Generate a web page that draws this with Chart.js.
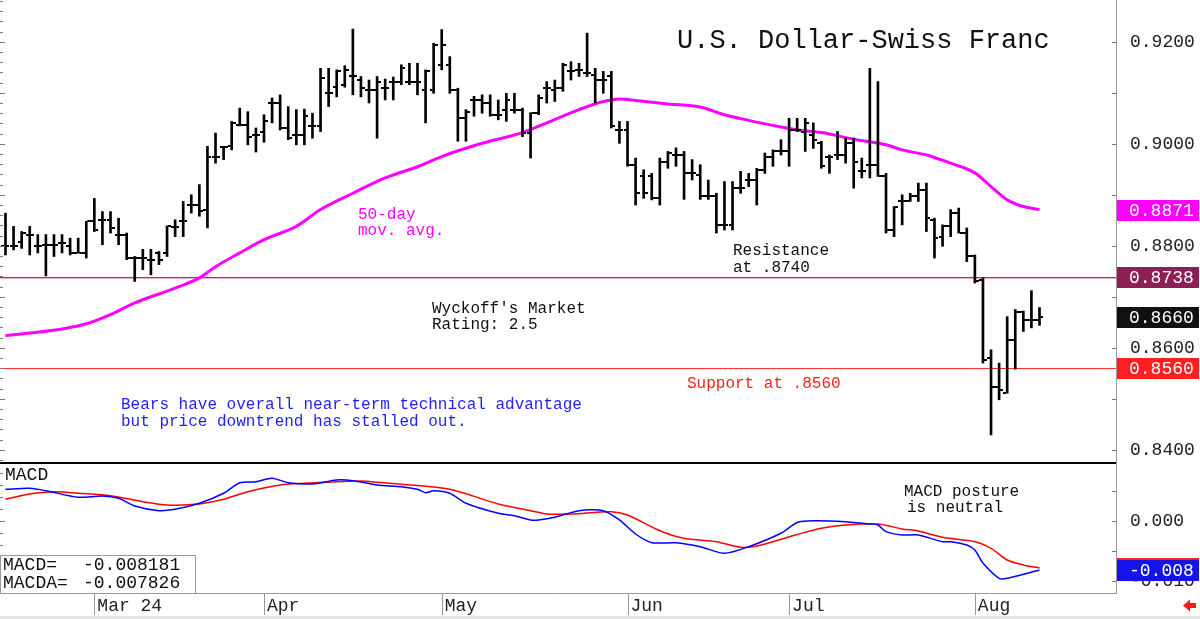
<!DOCTYPE html>
<html>
<head>
<meta charset="utf-8">
<title>U.S. Dollar-Swiss Franc</title>
<script src="https://cdn.jsdelivr.net/npm/chart.js@4.4.1/dist/chart.umd.min.js"></script>
<style>
    html, body { margin: 0; padding: 0; background: #fff; }
    #wrap { position: relative; width: 1200px; height: 619px; overflow: hidden; background: #fff; }
    #priceChart { position: absolute; left: 0; top: 0; }
    #macdChart { position: absolute; left: 0; top: 462px; }
</style>
</head>
<body>
<div id="wrap">
    <canvas id="priceChart" width="1200" height="462"></canvas>
    <canvas id="macdChart" width="1200" height="157"></canvas>
</div>
<script>
// --- Data (one bar per trading day, index 0 = mid Feb) ---
const monthStarts = [11, 32, 54, 77, 97, 120];
const monthLabels = ['Mar 24', 'Apr', 'May', 'Jun', 'Jul', 'Aug'];

const highs = [
    0.8864, 0.8838, 0.8828, 0.8838, 0.8822, 0.8822, 0.8822, 0.8822, 0.8815, 0.8815,
    0.8848, 0.8893, 0.8867, 0.8867, 0.8854, 0.8825, 0.8779, 0.8793, 0.8793, 0.8789,
    0.8839, 0.8851, 0.8887, 0.8900, 0.8920, 0.8995, 0.9021, 0.8995, 0.9044, 0.9070,
    0.9063, 0.9031, 0.9057, 0.9090, 0.9096, 0.9073, 0.9067, 0.9068, 0.9060, 0.9148,
    0.9148, 0.9145, 0.9153, 0.9225, 0.9132, 0.9125, 0.9132, 0.9127, 0.9131, 0.9155,
    0.9158, 0.9158, 0.9145, 0.9197, 0.9224, 0.9171, 0.9109, 0.9067, 0.9093, 0.9096,
    0.9096, 0.9086, 0.9099, 0.9099, 0.9070, 0.9061, 0.9096, 0.9122, 0.9125, 0.9158,
    0.9161, 0.9158, 0.9217, 0.9148, 0.9142, 0.9142, 0.9044, 0.9044, 0.8972, 0.8949,
    0.8942, 0.8972, 0.8985, 0.8992, 0.8985, 0.8969, 0.8959, 0.8929, 0.8903, 0.8926,
    0.8926, 0.8946, 0.8942, 0.8952, 0.8982, 0.8988, 0.9008, 0.9050, 0.9050, 0.9050,
    0.9041, 0.9005, 0.8978, 0.9024, 0.9011, 0.9011, 0.8972, 0.9148, 0.9122, 0.8942,
    0.8877, 0.8900, 0.8903, 0.8923, 0.8923, 0.8854, 0.8841, 0.8871, 0.8874, 0.8835,
    0.8782, 0.8737, 0.8596, 0.8570, 0.8661, 0.8675, 0.8672, 0.8712, 0.8679
];
const lows = [
    0.8782, 0.8792, 0.8795, 0.8782, 0.8786, 0.8741, 0.8779, 0.8786, 0.8782, 0.8786,
    0.8776, 0.8828, 0.8802, 0.8825, 0.8802, 0.8773, 0.8730, 0.8753, 0.8743, 0.8763,
    0.8779, 0.8818, 0.8818, 0.8864, 0.8858, 0.8835, 0.8962, 0.8969, 0.8988, 0.9035,
    0.8998, 0.8984, 0.9003, 0.9041, 0.9027, 0.9008, 0.8998, 0.8998, 0.9011, 0.9024,
    0.9073, 0.9092, 0.9111, 0.9096, 0.9092, 0.9080, 0.9011, 0.9086, 0.9086, 0.9116,
    0.9116, 0.9096, 0.9041, 0.9099, 0.9145, 0.9099, 0.9005, 0.9005, 0.9054, 0.9060,
    0.9054, 0.9047, 0.9044, 0.9060, 0.9014, 0.8972, 0.9057, 0.9080, 0.9083, 0.9103,
    0.9125, 0.9132, 0.9132, 0.9080, 0.9099, 0.9031, 0.9001, 0.8956, 0.8880, 0.8893,
    0.8890, 0.8880, 0.8952, 0.8956, 0.8891, 0.8929, 0.8891, 0.8891, 0.8825, 0.8831,
    0.8831, 0.8903, 0.8916, 0.8880, 0.8942, 0.8956, 0.8978, 0.8956, 0.9024, 0.8985,
    0.8991, 0.8952, 0.8942, 0.8969, 0.8962, 0.8913, 0.8933, 0.8933, 0.8936, 0.8825,
    0.8818, 0.8841, 0.8887, 0.8887, 0.8828, 0.8776, 0.8799, 0.8818, 0.8825, 0.8769,
    0.8727, 0.8570, 0.8429, 0.8498, 0.8511, 0.8558, 0.8632, 0.8639, 0.8644
];
const opens = [
    0.8799, 0.8799, 0.8808, 0.8822, 0.8799, 0.8802, 0.8802, 0.8805, 0.8799, 0.8786,
    0.8786, 0.8848, 0.8851, 0.8851, 0.8822, 0.8822, 0.8776, 0.8776, 0.8773, 0.8786,
    0.8786, 0.8836, 0.8848, 0.8880, 0.8880, 0.8871, 0.8975, 0.8993, 0.8995, 0.9037,
    0.9037, 0.9018, 0.9024, 0.9080, 0.9080, 0.9031, 0.9018, 0.9018, 0.9034, 0.9034,
    0.9099, 0.9112, 0.9116, 0.9132, 0.9125, 0.9106, 0.9106, 0.9109, 0.9122, 0.9122,
    0.9122, 0.9122, 0.9106, 0.9106, 0.9155, 0.9155, 0.9106, 0.9050, 0.9086, 0.9086,
    0.9080, 0.9057, 0.9067, 0.9067, 0.9067, 0.9021, 0.9060, 0.9109, 0.9106, 0.9109,
    0.9142, 0.9145, 0.9139, 0.9135, 0.9125, 0.9132, 0.9027, 0.9027, 0.8959, 0.8936,
    0.8936, 0.8893, 0.8965, 0.8978, 0.8978, 0.8942, 0.8939, 0.8897, 0.8897, 0.8841,
    0.8841, 0.8913, 0.8929, 0.8929, 0.8949, 0.8975, 0.8985, 0.8985, 0.9027, 0.9024,
    0.9018, 0.9001, 0.8975, 0.8978, 0.8978, 0.9001, 0.8946, 0.8959, 0.8959, 0.8936,
    0.8831, 0.8887, 0.8887, 0.8897, 0.8910, 0.8851, 0.8817, 0.8838, 0.8864, 0.8825,
    0.8779, 0.8733, 0.8580, 0.8524, 0.8512, 0.8616, 0.8670, 0.8655, 0.8654
];
const closes = [
    0.8799, 0.8799, 0.8825, 0.8822, 0.8799, 0.8802, 0.8802, 0.8805, 0.8786, 0.8786,
    0.8848, 0.8831, 0.8851, 0.8835, 0.8822, 0.8776, 0.8776, 0.8776, 0.8773, 0.8773,
    0.8838, 0.8836, 0.8848, 0.8880, 0.8869, 0.8975, 0.8975, 0.8993, 0.9041, 0.9037,
    0.9014, 0.9018, 0.9044, 0.9080, 0.9031, 0.9011, 0.9018, 0.9054, 0.9034, 0.9129,
    0.9099, 0.9142, 0.9145, 0.9132, 0.9109, 0.9106, 0.9122, 0.9109, 0.9122, 0.9148,
    0.9122, 0.9122, 0.9142, 0.9194, 0.9194, 0.9106, 0.9050, 0.9063, 0.9086, 0.9080,
    0.9057, 0.9057, 0.9086, 0.9067, 0.9021, 0.9060, 0.9090, 0.9109, 0.9109, 0.9155,
    0.9142, 0.9145, 0.9139, 0.9125, 0.9125, 0.9034, 0.9027, 0.8959, 0.8903, 0.8903,
    0.8893, 0.8965, 0.8982, 0.8978, 0.8942, 0.8942, 0.8897, 0.8897, 0.8841, 0.8841,
    0.8913, 0.8913, 0.8929, 0.8949, 0.8975, 0.8985, 0.8985, 0.9027, 0.9027, 0.9041,
    0.9008, 0.8956, 0.8975, 0.8978, 0.9001, 0.8965, 0.8946, 0.8959, 0.8936, 0.8831,
    0.8877, 0.8887, 0.8897, 0.8910, 0.8854, 0.8815, 0.8838, 0.8864, 0.8825, 0.8779,
    0.8730, 0.8577, 0.8524, 0.8518, 0.8616, 0.8670, 0.8655, 0.8654, 0.8660
];

// 50-day moving average, read at these bars
const maDays = [0, 3, 7, 10, 13, 16, 21, 24, 26, 29, 32, 36, 39, 43, 47, 51, 54, 59, 64, 67,
    71, 74, 76, 78, 82, 86, 89, 92, 96, 98, 101, 105, 109, 111, 114, 117, 120, 122, 124, 126, 128];
const maValues = [0.8624, 0.8629, 0.8637, 0.8647, 0.8665, 0.8688, 0.8717, 0.8737, 0.8759, 0.8786,
    0.8812, 0.8838, 0.8871, 0.8903, 0.8933, 0.8955, 0.8975, 0.9001, 0.9022, 0.9041,
    0.9067, 0.9083, 0.9088, 0.9085, 0.9078, 0.9072, 0.9057, 0.9046, 0.9033, 0.9027,
    0.9022, 0.9009, 0.8998, 0.8988, 0.8978, 0.8962, 0.8943, 0.8916, 0.8890, 0.8877, 0.8871];

// MACD (blue) and its average (red)
const macdDays = [0, 3, 5, 9, 12, 14, 16, 19, 21, 24, 27, 29, 31, 33, 35, 38, 41, 43, 46, 49,
    51, 52, 53, 55, 57, 61, 63, 65, 66, 68, 71, 74, 76, 78, 80, 83, 86, 89, 92, 96,
    98, 100, 104, 107, 108, 109, 111, 113, 116, 117, 119, 120, 121, 123, 124, 128];
const macdValues = [0.00528, 0.00545, 0.00505, 0.00395, 0.00417, 0.00378, 0.0025, 0.00172, 0.00195, 0.00295,
    0.00462, 0.00638, 0.00655, 0.00712, 0.00638, 0.00617, 0.00683, 0.00672, 0.006, 0.00572,
    0.00528, 0.00472, 0.00505, 0.00462, 0.00295, 0.00128, 0.00088, 0.00017, 0.00017, 0.00062,
    0.00172, 0.00172, 0.00017, -0.00217, -0.00362, -0.00362, -0.00428, -0.00538, -0.00428, -0.00205,
    -0.00025, 0.00005, -0.00012, -0.0005, -0.00067, -0.00178, -0.00233, -0.00233, -0.00345, -0.00345,
    -0.004, -0.00483, -0.0070, -0.00955, -0.00955, -0.008181];
const signalDays = [0, 3, 6, 9, 13, 17, 20, 24, 27, 30, 34, 37, 41, 44, 49, 55, 61, 65, 67, 70,
    75, 77, 81, 84, 88, 91, 93, 98, 101, 104, 108, 111, 113, 116, 120, 122, 124, 126, 128];
const signalValues = [0.00362, 0.0045, 0.00488, 0.00462, 0.00422, 0.00322, 0.00267, 0.00283, 0.00362, 0.00488,
    0.006, 0.00628, 0.00655, 0.00667, 0.00612, 0.00528, 0.00283, 0.00172, 0.00117, 0.00117,
    0.00155, 0.001, -0.00162, -0.00288, -0.00345, -0.00438, -0.00417, -0.00225, -0.00122, -0.00067,
    -0.0005, -0.00133, -0.00167, -0.00272, -0.00345, -0.00455, -0.0065, -0.00733, -0.007826];

const priceTicks = [0.84, 0.86, 0.88, 0.90, 0.92];
const macdTicks = [-0.010, 0.000];
const resistanceLevel = 0.8738;
const supportLevel = 0.8560;

// --- Shared look ---
const MONO = "'Liberation Mono', 'DejaVu Sans Mono', monospace";
Chart.defaults.font.family = MONO;
Chart.defaults.color = '#222';

const X_MIN = -0.68, X_MAX = 137.47;   // shared day range of both panels
const AXIS_W = 84;                      // width of the right-hand value axis

// the right axis must not push the plot area away from the canvas edges
function fitRightAxis(s) {
    s.width = AXIS_W;
    s.paddingTop = 0;
    s.paddingBottom = 0;
}

// small open / close tick images used as point styles
function tickImage(side) {
    const c = document.createElement('canvas');
    c.width = 8; c.height = 2;
    const g = c.getContext('2d');
    g.fillStyle = '#000';
    g.fillRect(side === 'left' ? 0 : 5, 0, 3, 2);
    return c;
}

function valueBox(ctx, left, y, text, bg) {
    ctx.fillStyle = bg;
    ctx.fillRect(left + 1, Math.round(y) - 10, 82, 21);
    ctx.fillStyle = '#fff';
    ctx.font = '18px ' + MONO;
    ctx.textBaseline = 'middle';
    ctx.textAlign = 'left';
    ctx.fillText(text, left + 13, Math.round(y) + 1);
}

// ticks drawn inside the left plot edge
function edgeTicks(ctx, area, scale, step, from, to, majorEvery) {
    ctx.strokeStyle = '#777';
    ctx.lineWidth = 1;
    for (let k = Math.ceil(from / step); k * step <= to; k++) {
        const py = Math.round(scale.getPixelForValue(k * step)) + 0.5;
        if (py < area.top || py > area.bottom) continue;
        const len = (k % majorEvery === 0) ? 5 : 3;
        ctx.beginPath(); ctx.moveTo(area.left, py); ctx.lineTo(area.left + len, py); ctx.stroke();
    }
}

// --- Price panel decorations ---
const priceDecor = {
    id: 'priceDecor',
    beforeDatasetsDraw(chart) {
        const { ctx, chartArea: a, scales: { y } } = chart;
        ctx.save();
        ctx.lineWidth = 1;
        // resistance: dark line with a pink edge below it
        let py = Math.round(y.getPixelForValue(resistanceLevel)) + 0.5;
        ctx.strokeStyle = '#7d4a78';
        ctx.beginPath(); ctx.moveTo(a.left, py); ctx.lineTo(a.right, py); ctx.stroke();
        ctx.strokeStyle = '#f2a8c8';
        ctx.beginPath(); ctx.moveTo(a.left, py + 1); ctx.lineTo(a.right, py + 1); ctx.stroke();
        // support
        py = Math.round(y.getPixelForValue(supportLevel)) + 0.5;
        ctx.strokeStyle = '#ff3030';
        ctx.beginPath(); ctx.moveTo(a.left, py); ctx.lineTo(a.right, py); ctx.stroke();
        ctx.restore();
    },
    afterDraw(chart) {
        const { ctx, chartArea: a, scales: { y } } = chart;
        ctx.save();
        edgeTicks(ctx, a, y, 0.002, 0.836, 0.93, 5);
        // inside ticks on the right axis
        ctx.strokeStyle = '#777';
        for (let k = 84; k <= 92; k++) {
            const py = Math.round(y.getPixelForValue(k / 100)) + 0.5;
            ctx.beginPath(); ctx.moveTo(a.right - 4, py); ctx.lineTo(a.right, py); ctx.stroke();
        }

        // annotations
        ctx.textBaseline = 'alphabetic';
        ctx.textAlign = 'left';
        ctx.fillStyle = '#111';
        ctx.font = '27px ' + MONO;
        ctx.fillText('U.S. Dollar-Swiss Franc', 677, 48);

        ctx.font = '16px ' + MONO;
        ctx.fillStyle = '#ff00ff';
        ctx.fillText('50-day', 358, 219);
        ctx.fillText('mov. avg.', 358, 235);
        ctx.fillStyle = '#111';
        ctx.fillText('Resistance', 733, 255);
        ctx.fillText('at .8740', 733, 272);
        ctx.fillText("Wyckoff's Market", 432, 313);
        ctx.fillText('Rating: 2.5', 432, 329);
        ctx.fillStyle = '#ff2020';
        ctx.fillText('Support at .8560', 687, 388);
        ctx.fillStyle = '#1f1fff';
        ctx.fillText('Bears have overall near-term technical advantage', 121, 409);
        ctx.fillText('but price downtrend has stalled out.', 121, 426);

        // value boxes on the right axis
        valueBox(ctx, a.right, y.getPixelForValue(maValues[maValues.length - 1]),
            maValues[maValues.length - 1].toFixed(4), '#ff00ff');
        valueBox(ctx, a.right, y.getPixelForValue(resistanceLevel), resistanceLevel.toFixed(4), '#8e1f56');
        valueBox(ctx, a.right, y.getPixelForValue(closes[closes.length - 1]),
            closes[closes.length - 1].toFixed(4), '#111');
        valueBox(ctx, a.right, y.getPixelForValue(supportLevel), supportLevel.toFixed(4), '#ff1f1f');
        ctx.restore();
    }
};

// --- Price panel: OHLC bars + 50-day average ---
new Chart(document.getElementById('priceChart'), {
    type: 'line',
    data: {
        datasets: [{
            type: 'bar',
            data: highs.map((h, i) => ({ x: i, y: [lows[i], h] })),
            backgroundColor: '#000',
            borderWidth: 0,
            barThickness: 2,
            grouped: false,
            order: 0
        }, {
            data: opens.map((v, i) => ({ x: i, y: v })),
            showLine: false,
            pointStyle: tickImage('left'),
            pointRadius: 3,
            order: 1
        }, {
            data: closes.map((v, i) => ({ x: i, y: v })),
            showLine: false,
            pointStyle: tickImage('right'),
            pointRadius: 3,
            order: 1
        }, {
            data: maDays.map((d, i) => ({ x: d, y: maValues[i] })),
            borderColor: '#ff00ff',
            borderWidth: 3,
            pointRadius: 0,
            cubicInterpolationMode: 'monotone',
            order: 3
        }]
    },
    options: {
        responsive: false,
        animation: false,
        events: [],
        layout: { padding: 0, autoPadding: false },
        plugins: { legend: { display: false }, tooltip: { enabled: false }, title: { display: false } },
        scales: {
            x: { type: 'linear', min: X_MIN, max: X_MAX, offset: false, display: false },
            y: {
                type: 'linear',
                position: 'right',
                min: 0.8376,
                max: 0.9282,
                afterBuildTicks: s => { s.ticks = priceTicks.map(v => ({ value: v })); },
                afterFit: fitRightAxis,
                ticks: {
                    callback: v => Number(v).toFixed(4),
                    font: { size: 18 },
                    color: '#222',
                    padding: 14
                },
                grid: { drawOnChartArea: false, drawTicks: false },
                border: { color: '#999', width: 1 }
            }
        }
    },
    plugins: [priceDecor]
});

// --- MACD panel decorations ---
const macdDecor = {
    id: 'macdDecor',
    afterDraw(chart) {
        const { ctx, chartArea: a, scales: { x, y } } = chart;
        ctx.save();
        // heavy divider under the price panel
        ctx.fillStyle = '#000';
        ctx.fillRect(a.left, 0, a.right - a.left, 2);

        edgeTicks(ctx, a, y, 0.002, -0.012, 0.01, 5);
        ctx.strokeStyle = '#777';
        for (let k = -2; k <= 1; k++) {
            const py = Math.round(y.getPixelForValue(k * 0.005)) + 0.5;
            ctx.beginPath(); ctx.moveTo(a.right - 4, py); ctx.lineTo(a.right, py); ctx.stroke();
        }

        // month separators under the plot
        ctx.strokeStyle = '#999';
        monthStarts.forEach(d => {
            const px = Math.round(x.getPixelForValue(d)) + 0.5;
            ctx.beginPath(); ctx.moveTo(px, a.bottom); ctx.lineTo(px, a.bottom + 22); ctx.stroke();
        });

        ctx.textBaseline = 'alphabetic';
        ctx.textAlign = 'left';
        ctx.fillStyle = '#111';
        ctx.font = '18px ' + MONO;
        ctx.fillText('MACD', 5, 18);
        ctx.font = '16px ' + MONO;
        ctx.fillText('MACD posture', 904, 34);
        ctx.fillText('is neutral', 907, 50);

        // readout box
        const lastMacd = macdValues[macdValues.length - 1];
        const lastSignal = signalValues[signalValues.length - 1];
        ctx.fillStyle = '#fff';
        ctx.fillRect(0, 93, 196, 38);
        ctx.strokeStyle = '#999';
        ctx.strokeRect(0.5, 93.5, 195, 38);
        ctx.fillStyle = '#111';
        ctx.font = '18px ' + MONO;
        ctx.fillText('MACD=', 3, 108);
        ctx.fillText(lastMacd.toFixed(6), 83, 108);
        ctx.fillText('MACDA=', 3, 126);
        ctx.fillText(lastSignal.toFixed(6), 83, 126);

        // value boxes
        valueBox(ctx, a.right, y.getPixelForValue(lastSignal), lastSignal.toFixed(3), '#ff1f1f');
        valueBox(ctx, a.right, y.getPixelForValue(lastMacd), lastMacd.toFixed(3), '#1414e6');

        // bottom strip and scroll arrow
        ctx.fillStyle = '#e6e6e6';
        ctx.fillRect(0, 154, 1200, 3);
        ctx.fillStyle = '#ff1a1a';
        ctx.beginPath();
        ctx.moveTo(1183, 143.5); ctx.lineTo(1190, 137.5); ctx.lineTo(1190, 149.5); ctx.closePath();
        ctx.fill();
        ctx.fillRect(1189, 141, 7, 5);
        ctx.restore();
    }
};

// --- MACD panel ---
new Chart(document.getElementById('macdChart'), {
    type: 'line',
    data: {
        datasets: [{
            data: macdDays.map((d, i) => ({ x: d, y: macdValues[i] })),
            borderColor: '#0000ff',
            borderWidth: 1.5,
            pointRadius: 0,
            tension: 0.25,
            order: 0
        }, {
            data: signalDays.map((d, i) => ({ x: d, y: signalValues[i] })),
            borderColor: '#ff0000',
            borderWidth: 1.5,
            pointRadius: 0,
            tension: 0.3,
            order: 1
        }]
    },
    options: {
        responsive: false,
        animation: false,
        events: [],
        layout: { padding: 0, autoPadding: false },
        plugins: { legend: { display: false }, tooltip: { enabled: false } },
        scales: {
            x: {
                type: 'linear',
                min: X_MIN,
                max: X_MAX,
                offset: false,
                afterBuildTicks: s => { s.ticks = monthStarts.map(v => ({ value: v })); },
                afterFit: s => { s.height = 26; s.paddingLeft = 0; s.paddingRight = 0; },
                ticks: {
                    callback: v => monthLabels[monthStarts.indexOf(v)],
                    autoSkip: false,
                    maxRotation: 0,
                    align: 'start',
                    labelOffset: 3,
                    padding: 2,
                    font: { size: 18 },
                    color: '#222'
                },
                grid: { display: false, drawTicks: false },
                border: { color: '#999', width: 1 }
            },
            y: {
                type: 'linear',
                position: 'right',
                min: -0.012,
                max: 0.00983,
                afterBuildTicks: s => { s.ticks = macdTicks.map(v => ({ value: v })); },
                afterFit: fitRightAxis,
                ticks: {
                    callback: v => Number(v).toFixed(3),
                    font: { size: 18 },
                    color: '#222',
                    padding: 14
                },
                grid: { drawOnChartArea: false, drawTicks: false },
                border: { color: '#999', width: 1 }
            }
        }
    },
    plugins: [macdDecor]
});
</script>
</body>
</html>
